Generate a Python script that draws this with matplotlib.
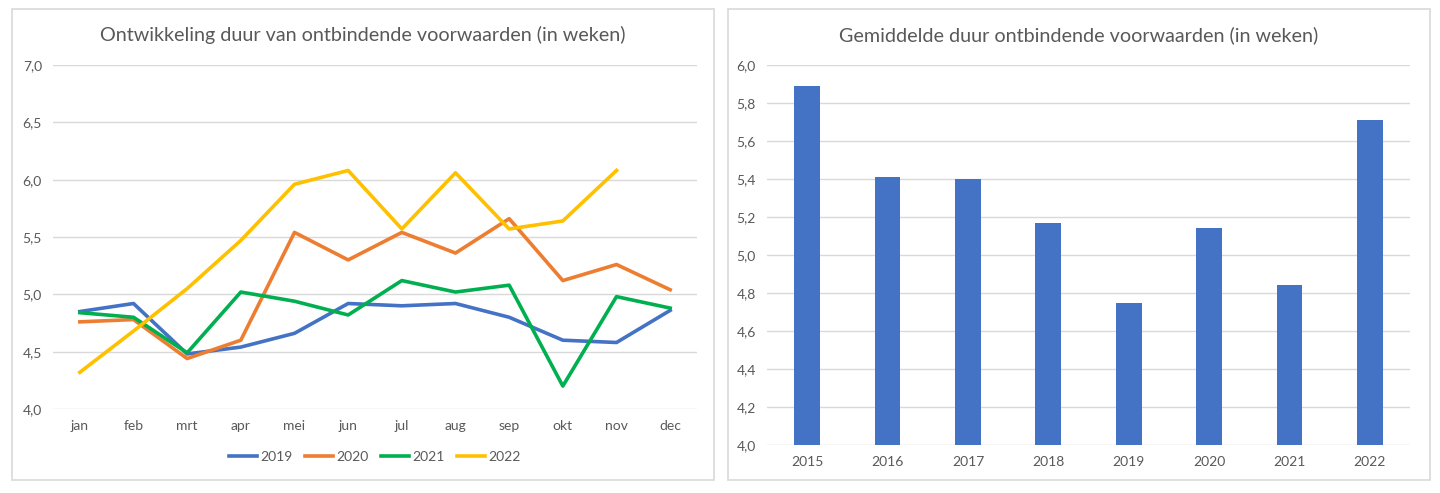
import numpy as np
import matplotlib
matplotlib.use('Agg')
import matplotlib.pyplot as plt
from matplotlib.patches import Rectangle
from matplotlib.ticker import FuncFormatter

plt.rcParams['font.family'] = ['Lato', 'DejaVu Sans']

months = ['jan', 'feb', 'mrt', 'apr', 'mei', 'jun', 'jul', 'aug', 'sep', 'okt', 'nov', 'dec']
d2019 = [4.85, 4.92, 4.48, 4.54, 4.66, 4.92, 4.90, 4.92, 4.80, 4.60, 4.58, 4.86]
d2020 = [4.76, 4.78, 4.44, 4.60, 5.54, 5.30, 5.54, 5.36, 5.66, 5.12, 5.26, 5.04]
d2021 = [4.84, 4.80, 4.49, 5.02, 4.94, 4.82, 5.12, 5.02, 5.08, 4.20, 4.98, 4.88]
d2022 = [4.32, 4.68, 5.05, 5.47, 5.96, 6.08, 5.57, 6.06, 5.57, 5.64, 6.08]

years = ['2015', '2016', '2017', '2018', '2019', '2020', '2021', '2022']
avg = [5.89, 5.41, 5.40, 5.17, 4.75, 5.14, 4.84, 5.71]

series = [('2019', d2019, '#4472C4'), ('2020', d2020, '#ED7D31'),
          ('2021', d2021, '#00B050'), ('2022', d2022, '#FFC000')]

W, H = 1440, 493
fig = plt.figure(figsize=(W / 100, H / 100), dpi=100)

def box(x0, y0, x1, y1):
    # pixel coords (top-left origin) -> figure fraction
    return [x0 / W, 1 - y1 / H, (x1 - x0) / W, (y1 - y0) / H]

panels = [(12, 714), (728, 1430)]
for x0, x1 in panels:
    b = box(x0, 9, x1, 480)
    fig.patches.append(Rectangle((b[0], b[1]), b[2], b[3], transform=fig.transFigure,
                                 fill=False, edgecolor='#D9D9D9', linewidth=1.2))

comma = FuncFormatter(lambda v, p: ('%.1f' % v).replace('.', ','))
tick_col = '#595959'

def style(ax):
    for s in ax.spines.values():
        s.set_visible(False)
    ax.grid(axis='y', color='#D9D9D9', linewidth=1)
    ax.set_axisbelow(True)
    ax.tick_params(length=0, colors=tick_col, labelsize=10)
    ax.tick_params(axis='y', pad=8)
    ax.tick_params(axis='x', pad=8)
    ax.yaxis.set_major_formatter(comma)

# left: line chart
ax1 = fig.add_axes(box(53, 65, 697, 409))
x = np.arange(len(months))
for name, vals, col in series:
    ax1.plot(x[:len(vals)], vals, color=col, linewidth=2.6, label=name)
ax1.set_xlim(-0.5, 11.5)
ax1.set_ylim(4.0, 7.0)
ax1.set_yticks(np.arange(4.0, 7.01, 0.5))
ax1.set_xticks(x)
ax1.set_xticklabels(months)
style(ax1)
leg = ax1.legend(loc='upper center', bbox_to_anchor=(0.5, -0.085), ncol=4, frameon=False,
                 fontsize=10, handlelength=2.0, handletextpad=0.25, columnspacing=0.9)
for t in leg.get_texts():
    t.set_color(tick_col)

# right: bar chart
ax2 = fig.add_axes(box(767, 65, 1410, 445))
xb = np.arange(len(years))
ax2.bar(xb, [v - 4.0 for v in avg], bottom=4.0, width=0.32, color='#4472C4')
ax2.set_xlim(-0.5, 7.5)
ax2.set_ylim(4.0, 6.0)
ax2.set_yticks(np.arange(4.0, 6.01, 0.2))
ax2.set_xticks(xb)
ax2.set_xticklabels(years)
style(ax2)

titles = ['Ontwikkeling duur van ontbindende voorwaarden (in weken)',
          'Gemiddelde duur ontbindende voorwaarden (in weken)']
for (x0, x1), t in zip(panels, titles):
    fig.text((x0 + x1) / 2 / W, 1 - 35 / H, t, ha='center', va='center',
             fontsize=14.2, color=tick_col)

fig.savefig('out.png', dpi=100)
